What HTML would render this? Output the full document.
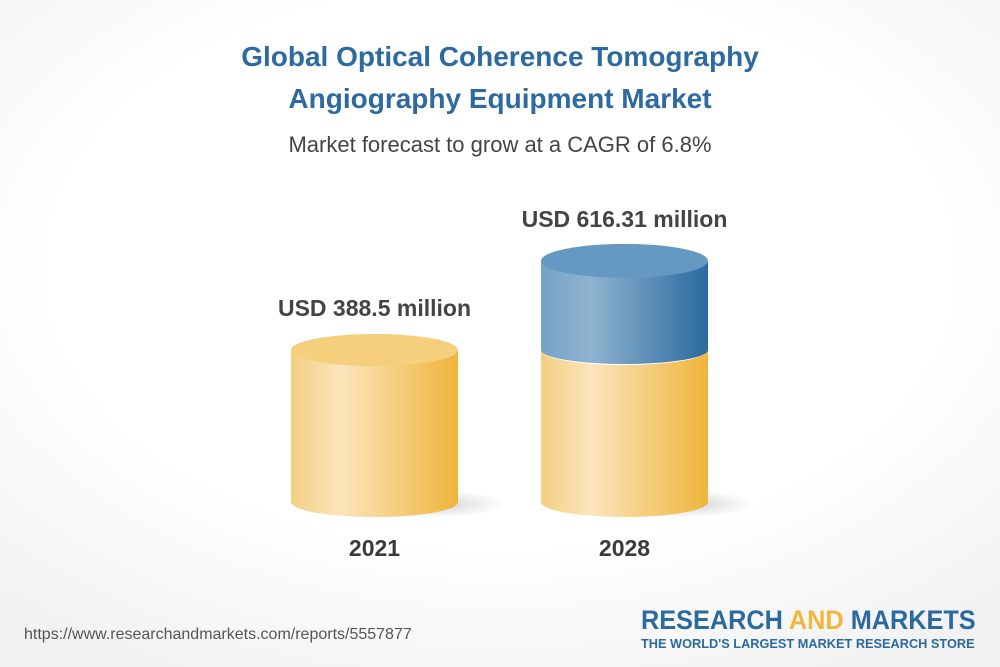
<!DOCTYPE html>
<html><head><meta charset="utf-8"><style>
html,body{margin:0;padding:0;width:1000px;height:667px;overflow:hidden}
body{font-family:"Liberation Sans",sans-serif;background:radial-gradient(ellipse 75% 70% at 50% 40%,#ffffff 60%,#f1f1f1 100%);position:relative}
.t{position:absolute;left:0;width:1000px;text-align:center}
</style></head><body>
<div class="t" style="top:36px;font-size:28px;font-weight:bold;color:#2d6aa0;line-height:42px">Global Optical Coherence Tomography<br>Angiography Equipment Market</div>
<div class="t" style="top:132px;font-size:22px;color:#444">Market forecast to grow at a CAGR of 6.8%</div>
<svg id="chart" width="1000" height="667" style="position:absolute;left:0;top:0">
<defs>
<linearGradient id="gy" x1="0" x2="1"><stop offset="0" stop-color="#f4cf83"/><stop offset="0.3" stop-color="#fbe5bc"/><stop offset="1" stop-color="#efb43b"/></linearGradient>
<linearGradient id="gb" x1="0" x2="1"><stop offset="0" stop-color="#74a3c6"/><stop offset="0.3" stop-color="#8fb3cf"/><stop offset="1" stop-color="#2a6a9f"/></linearGradient>
<radialGradient id="sh"><stop offset="0" stop-color="#000" stop-opacity="0.18"/><stop offset="1" stop-color="#000" stop-opacity="0"/></radialGradient>
</defs>
</svg>
<div style="position:absolute;left:24px;top:626px;font-size:16px;color:#555">https://www.researchandmarkets.com/reports/5557877</div>
<div style="position:absolute;left:641px;top:605px;width:335px;white-space:nowrap">
<div style="font-size:27px;font-weight:bold;color:#2a6aa0;line-height:30px;transform:scaleX(0.936);transform-origin:left">RESEARCH <span style="color:#f0b63d">AND</span> MARKETS</div>
<div style="font-size:12.5px;font-weight:bold;color:#2a6aa0;line-height:16px;margin-top:1px;transform:scaleX(1.02);transform-origin:left">THE WORLD'S LARGEST MARKET RESEARCH STORE</div>
</div>
<script>
const categories=["2021","2028"];
const values=[388.5,616.31];
const valueLabels=["USD 388.5 million","USD 616.31 million"];
const svg=document.getElementById('chart');
const NS='http://www.w3.org/2000/svg';
const base=502, scale=152/388.5, cx=[374.5,624.5], rx=83.5;
function y(v){return base-v*scale;}
function el(t,a){const e=document.createElementNS(NS,t);for(const k in a)e.setAttribute(k,a[k]);svg.appendChild(e);return e;}
function body(c,yt,yb,ry,fill){
  return el('path',{d:`M${c-rx},${yt} L${c-rx},${yb} A${rx},${ry} 0 0 0 ${c+rx},${yb} L${c+rx},${yt} A${rx},${ry} 0 0 1 ${c-rx},${yt}Z`,fill:fill});
}
categories.forEach((cat,i)=>{
  const c=cx[i];
  const sh=el('ellipse',{cx:c+60,cy:base+2,rx:70,ry:14,fill:'url(#sh)'});
  
  
  const ry=i===0?16:17;
  const yTop=y(values[i]);
  const yel=body(c,y(Math.min(values[i],values[0])),base,15,'url(#gy)');
  
  
  if(values[i]>values[0]){
    const bl=body(c,yTop,y(values[0]),14,'url(#gb)');
    
    
  }
  const top=el('ellipse',{cx:c,cy:yTop,rx:rx,ry:ry,fill:values[i]>values[0]?'#6699c1':'#f5cf7c'});
  
  
  const vl=el('text',{x:c,y:yTop-34,'text-anchor':'middle','font-size':23,'font-weight':'bold',fill:'#444','font-family':'Liberation Sans, sans-serif'});
  vl.textContent=valueLabels[i];
  
  
  const cl=el('text',{x:c,y:556,'text-anchor':'middle','font-size':23,'font-weight':'bold',fill:'#3a3a3a','font-family':'Liberation Sans, sans-serif'});
  cl.textContent=cat;
  
  
});
</script>
</body></html>
